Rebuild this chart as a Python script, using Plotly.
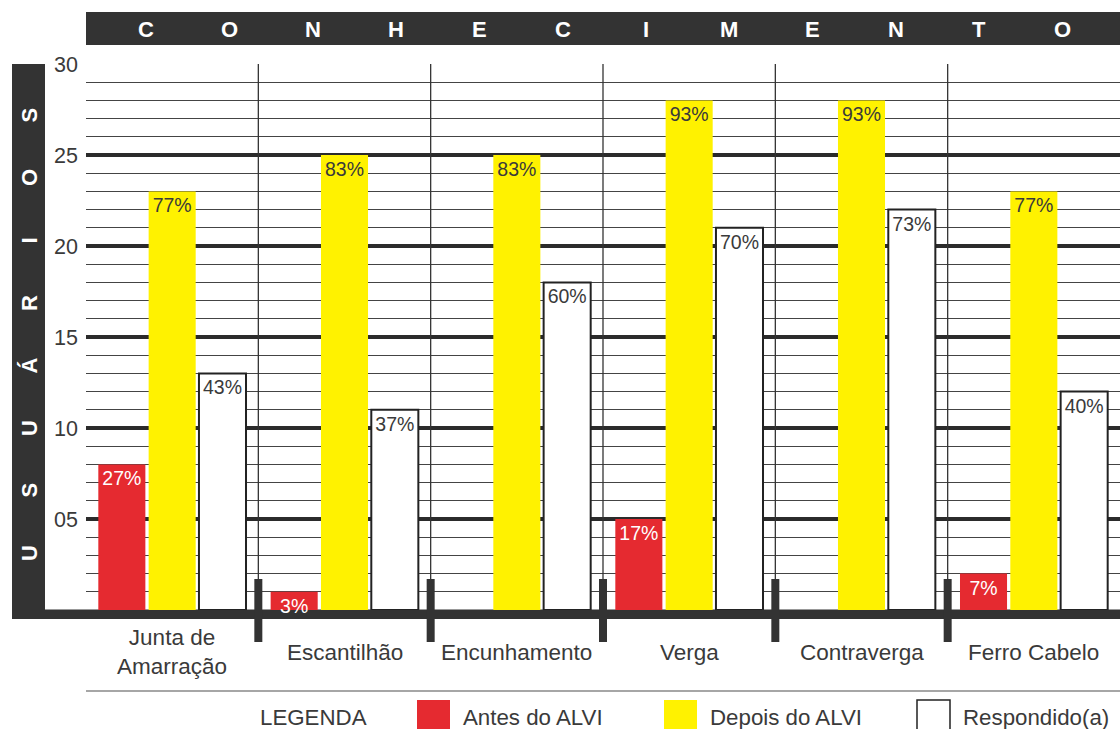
import plotly.graph_objects as go

# ---------------- data ----------------
categories = ["Junta de<br>Amarração", "Escantilhão", "Encunhamento", "Verga", "Contraverga", "Ferro Cabelo"]
antes = [8, 1, 0, 5, 0, 2]
depois = [23, 25, 25, 28, 28, 23]
respondido = [13, 11, 18, 21, 22, 12]
antes_pct = ["27%", "3%", "", "17%", "", "7%"]
depois_pct = ["77%", "83%", "83%", "93%", "93%", "77%"]
resp_pct = ["43%", "37%", "60%", "70%", "73%", "40%"]
series_names = ["Antes do ALVI", "Depois do ALVI", "Respondido(a)"]
ytick_vals = [5, 10, 15, 20, 25, 30]
ytick_text = ["05", "10", "15", "20", "25", "30"]
header_word = "CONHECIMENTO"
side_word = "USUÁRIOS"
legend_title = "LEGENDA"

# ---------------- style ----------------
W, H = 1120, 729
ML, MR, MT, MB = 86, 0, 64, 119
PW, PH = W - ML - MR, H - MT - MB
DARK = "#333333"
RED = "#E52A30"
YELLOW = "#FFF200"
TXT = "#3a3a3a"
FONT = "Liberation Sans, Arial, sans-serif"


def px_x(px):
    return (px - ML) / PW


def px_y(py):
    return (H - MB - py) / PH


xs = list(range(len(categories)))

fig = go.Figure()
fig.add_trace(go.Bar(
    x=xs, y=antes, name=series_names[0], text=antes_pct,
    marker=dict(color=RED, line=dict(width=0)),
    textposition="inside", insidetextanchor="end", textangle=0, cliponaxis=False,
    insidetextfont=dict(color="white", size=19.5, family=FONT),
))
fig.add_trace(go.Bar(
    x=xs, y=depois, name=series_names[1], text=depois_pct,
    marker=dict(color=YELLOW, line=dict(width=0)),
    textposition="inside", insidetextanchor="end", textangle=0,
    insidetextfont=dict(color=TXT, size=19.5, family=FONT),
))
fig.add_trace(go.Bar(
    x=xs, y=respondido, name=series_names[2], text=resp_pct,
    marker=dict(color="white", line=dict(width=2, color="#222222")),
    textposition="inside", insidetextanchor="end", textangle=0,
    insidetextfont=dict(color=TXT, size=19.5, family=FONT),
))

shapes = []
# bottom bar (between grid and traces so bar labels stay visible)
shapes.append(dict(type="rect", xref="paper", yref="paper", x0=px_x(12), x1=1.0,
                   y0=px_y(619), y1=px_y(609.5), fillcolor=DARK, line=dict(width=0), layer="between"))
# category separators and thick boundary marks
for i in range(len(categories) - 1):
    shapes.append(dict(type="line", xref="x", yref="y", x0=i + 0.5, x1=i + 0.5, y0=0, y1=30,
                       line=dict(color=DARK, width=1.3), layer="between"))
    shapes.append(dict(type="line", xref="x", yref="paper", x0=i + 0.5, x1=i + 0.5,
                       y0=px_y(642), y1=px_y(579), line=dict(color=DARK, width=8), layer="above"))
# left bar
shapes.append(dict(type="rect", xref="paper", yref="paper", x0=px_x(12), x1=px_x(45),
                   y0=px_y(619), y1=1.0, fillcolor=DARK, line=dict(width=0), layer="above"))
# header bar
shapes.append(dict(type="rect", xref="paper", yref="paper", x0=0, x1=1.0,
                   y0=px_y(45), y1=px_y(12), fillcolor=DARK, line=dict(width=0), layer="above"))
# legend separator line
shapes.append(dict(type="line", xref="paper", yref="paper", x0=0, x1=1.0,
                   y0=px_y(691), y1=px_y(691), line=dict(color="#888888", width=1.5), layer="above"))
# legend squares
legend_sq = [(417, RED, RED), (664, YELLOW, YELLOW), (917, "white", "#222222")]
for x0, fc, lc in legend_sq:
    shapes.append(dict(type="rect", xref="paper", yref="paper", x0=px_x(x0), x1=px_x(x0 + 33),
                       y0=px_y(740), y1=px_y(700), fillcolor=fc,
                       line=dict(color=lc, width=1.5 if fc == "white" else 0), layer="above"))

annotations = []
# header letters
for i, ch in enumerate(header_word):
    annotations.append(dict(text="<b>%s</b>" % ch, xref="paper", yref="paper",
                            x=px_x(146 + 83.3 * i), y=px_y(29), showarrow=False,
                            xanchor="center", yanchor="middle",
                            font=dict(color="white", size=22, family=FONT)))
# side letters (bottom to top)
for i, ch in enumerate(side_word):
    annotations.append(dict(text="<b>%s</b>" % ch, xref="paper", yref="paper",
                            x=px_x(29), y=px_y(553 - 62.5 * i), showarrow=False, textangle=-90,
                            xanchor="center", yanchor="middle",
                            font=dict(color="white", size=22, family=FONT)))
# category labels
for i, c in enumerate(categories):
    annotations.append(dict(text=c, xref="x", yref="paper", x=i, y=px_y(652), showarrow=False,
                            xanchor="center", yanchor="middle",
                            font=dict(color=TXT, size=22.5, family=FONT)))
# legend texts
annotations.append(dict(text=legend_title, xref="paper", yref="paper", x=px_x(313), y=px_y(717),
                        showarrow=False, xanchor="center", yanchor="middle",
                        font=dict(color=TXT, size=22.3, family=FONT)))
for (x0, _, _), name in zip(legend_sq, series_names):
    annotations.append(dict(text=name, xref="paper", yref="paper", x=px_x(x0 + 44), y=px_y(717),
                            showarrow=False, xanchor="left", yanchor="middle",
                            font=dict(color=TXT, size=22.3, family=FONT)))

fig.update_layout(
    width=W, height=H, autosize=False,
    margin=dict(l=ML, r=MR, t=MT, b=MB, pad=0),
    paper_bgcolor="white", plot_bgcolor="white",
    barmode="group", bargap=0.124, bargroupgap=0.065,
    showlegend=False,
    uniformtext=dict(minsize=19.5, mode="show"),
    shapes=shapes, annotations=annotations,
    xaxis=dict(range=[-0.5, len(categories) - 0.5], showticklabels=False, showgrid=False,
               zeroline=False, showline=False, ticks=""),
    yaxis=dict(range=[0, 30], tickvals=ytick_vals, ticktext=ytick_text, showgrid=True,
               gridcolor="#2b2b2b", gridwidth=3.5, zeroline=False, showline=False, ticks="",
               ticklabelstandoff=7,
               tickfont=dict(color=TXT, size=21.5, family=FONT),
               minor=dict(dtick=1, tick0=0, showgrid=True, gridcolor="#444444", gridwidth=1.2)),
)

fig.write_html("out.html", config={"displayModeBar": False},
               post_script="document.body.style.margin='0';document.body.style.overflow='hidden';")
